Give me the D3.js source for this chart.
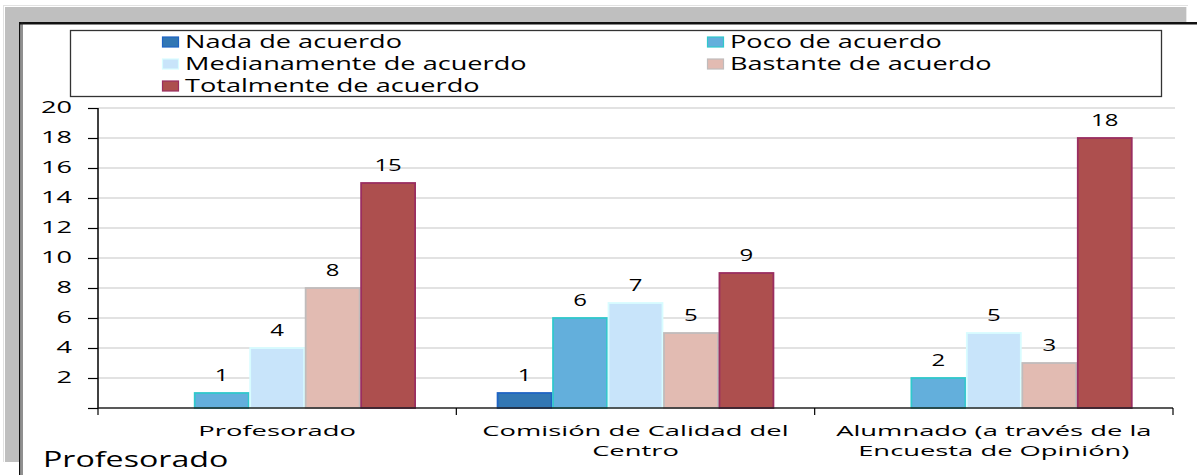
<!DOCTYPE html>
<html>
<head>
<meta charset="utf-8">
<script src="https://cdn.jsdelivr.net/npm/d3@7"></script>
<style>
  html, body { margin: 0; padding: 0; background: #fff; }
  svg { display: block; font-family: "Open Sans", sans-serif; }
</style>
</head>
<body>
<svg id="chart" width="1197" height="475"></svg>
<script>
// data
const categories = ["Profesorado", "Comisión de Calidad del Centro", "Alumnado (a través de la Encuesta de Opinión)"]
const categoryLines = [["Profesorado"], ["Comisión de Calidad del", "Centro"], ["Alumnado (a través de la", "Encuesta de Opinión)"]]
const series = ["Nada de acuerdo", "Poco de acuerdo", "Medianamente de acuerdo", "Bastante de acuerdo", "Totalmente de acuerdo"]
const nada = [null, 1, null]
const poco = [1, 6, 2]
const mediana = [4, 7, 5]
const bastante = [8, 5, 3]
const totalmente = [15, 9, 18]
const yTicks = [0, 2, 4, 6, 8, 10, 12, 14, 16, 18, 20]
const footer = "Profesorado"

const values = [nada, poco, mediana, bastante, totalmente]
const fills = ["#3277b4", "#63afdc", "#c8e4fa", "#e2bbb2", "#ad4f4e"]
const strokes = ["#1f64c4", "#30c8cc", "#d8fcff", "#c0bcbc", "#9a2e60"]

const svg = d3.select("#chart")

// stretch text horizontally (the reference is widened)
const stretch = (sel, k) => sel.each(function () {
  const w = this.getComputedTextLength()
  this.setAttribute("textLength", w * k)
  this.setAttribute("lengthAdjust", "spacingAndGlyphs")
})

// frame
svg.append("line").attr("x1", 3).attr("x2", 1188).attr("y1", 5.5).attr("y2", 5.5).attr("stroke", "#e2e2e2")
svg.append("line").attr("x1", 3.5).attr("x2", 3.5).attr("y1", 5).attr("y2", 462).attr("stroke", "#e2e2e2")
svg.append("rect").attr("x", 5).attr("y", 7).attr("width", 1181).attr("height", 15).attr("fill", "#bfbfbf")
svg.append("rect").attr("x", 5).attr("y", 7).attr("width", 14).attr("height", 455).attr("fill", "#bfbfbf")
svg.append("line").attr("x1", 1186.5).attr("x2", 1186.5).attr("y1", 7).attr("y2", 22).attr("stroke", "#e8e8e8")
svg.append("rect").attr("x", 19).attr("y", 22).attr("width", 1178).attr("height", 2.5).attr("fill", "#111")
svg.append("rect").attr("x", 19).attr("y", 22).attr("width", 1.5).attr("height", 453).attr("fill", "#111")
svg.append("rect").attr("x", 21.5).attr("y", 22).attr("width", 1).attr("height", 453).attr("fill", "#222")

// legend
svg.append("rect").attr("x", 70.5).attr("y", 30.5).attr("width", 1091).attr("height", 66)
  .attr("fill", "none").attr("stroke", "#333").attr("stroke-width", 1.3)
const legendCol = [162, 707]
const legendRow = [42, 64, 86]
const lg = svg.append("g").selectAll("g").data(series).join("g")
  .attr("transform", (d, i) => `translate(${legendCol[i % 2]},${legendRow[Math.floor(i / 2)]})`)
lg.append("rect").attr("x", 0.5).attr("y", -5).attr("width", 16).attr("height", 10)
  .attr("fill", (d, i) => fills[i]).attr("stroke", (d, i) => strokes[i]).attr("stroke-width", 1.2)
lg.append("text").attr("x", 23).attr("dy", "0.36em").attr("font-size", 17.5).attr("fill", "#000")
  .text(d => d).call(stretch, 1.55)

// scales
const x0 = d3.scaleBand().domain(categories).range([98, 1173]).padding(0)
const x1 = d3.scaleBand().domain(series).range([0, x0.bandwidth()]).paddingInner(0).paddingOuter(0.73)
const y = d3.scaleLinear().domain([0, 20]).range([408, 108])

// grid
svg.append("g").selectAll("line").data(yTicks.filter(t => t > 0)).join("line")
  .attr("x1", 98).attr("x2", 1175).attr("y1", d => y(d)).attr("y2", d => y(d))
  .attr("stroke", "#d9d9d9").attr("stroke-width", 1.3)

// bars
const rows = []
categories.forEach((c, ci) => series.forEach((s, si) => {
  if (values[si][ci] != null) rows.push({ c, s, si, v: values[si][ci] })
}))
svg.append("g").selectAll("rect").data(rows).join("rect")
  .attr("x", d => x0(d.c) + x1(d.s) + 0.75)
  .attr("y", d => y(d.v))
  .attr("width", x1.bandwidth() - 1.5)
  .attr("height", d => y(0) - y(d.v))
  .attr("fill", d => fills[d.si]).attr("stroke", d => strokes[d.si]).attr("stroke-width", 1.8)

svg.append("g").selectAll("text").data(rows).join("text")
  .attr("x", d => x0(d.c) + x1(d.s) + x1.bandwidth() / 2)
  .attr("y", d => y(d.v) - 12)
  .attr("text-anchor", "middle").attr("font-size", 16.5).attr("fill", "#000")
  .text(d => d.v).call(stretch, 1.45)

// y axis
const yAxis = svg.append("g").attr("transform", "translate(98,0)")
  .call(d3.axisLeft(y).tickValues(yTicks).tickSize(10).tickPadding(16).tickFormat(d => d === 0 ? "" : d))
yAxis.select(".domain").attr("stroke", "#000").attr("stroke-width", 1.5).attr("d", "M0,108V408")
yAxis.selectAll(".tick line").attr("stroke", "#000").attr("stroke-width", 1.2)
yAxis.selectAll(".tick text").attr("font-size", 15.5).attr("font-family", "Open Sans").attr("fill", "#000")
  .call(stretch, 1.75)

// x axis
const xAxis = svg.append("g").attr("transform", "translate(0,408)")
  .call(d3.axisBottom(x0).tickSize(0).tickFormat(""))
xAxis.select(".domain").attr("stroke", "#222").attr("stroke-width", 1.3).attr("d", "M98,0H1173")
svg.append("g").selectAll("line").data(x0.domain().concat([null])).join("line")
  .attr("x1", d => d == null ? 1173 : x0(d)).attr("x2", d => d == null ? 1173 : x0(d))
  .attr("y1", 408).attr("y2", 415).attr("stroke", "#000").attr("stroke-width", 1.2)

const labelRows = []
categories.forEach((c, ci) => categoryLines[ci].forEach((t, li) => labelRows.push({ c, t, li })))
svg.append("g").selectAll("text").data(labelRows).join("text")
  .attr("x", d => x0(d.c) + x0.bandwidth() / 2).attr("y", d => 435.5 + d.li * 20.8)
  .attr("text-anchor", "middle").attr("font-size", 15.2).attr("fill", "#000")
  .text(d => d.t)
  .call(stretch, 1.8)

svg.append("text").attr("x", 43).attr("y", 467).attr("font-size", 21).attr("fill", "#000")
  .text(footer).call(stretch, 1.53)
</script>
</body>
</html>
